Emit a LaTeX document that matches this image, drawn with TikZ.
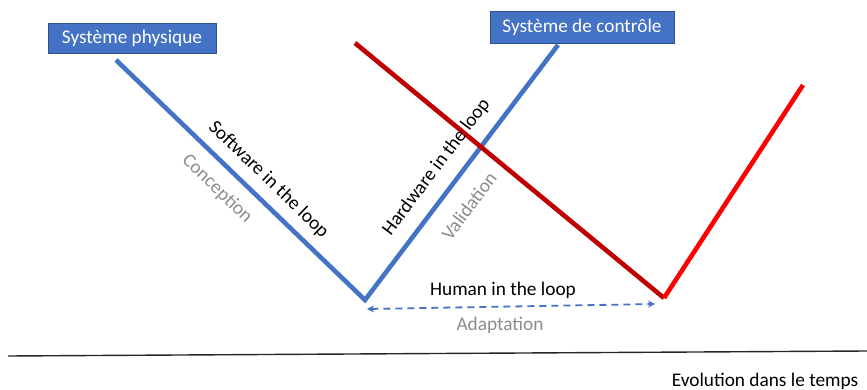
\documentclass[tikz,border=0pt]{standalone}
\usepackage{fontspec}
\setmainfont{Carlito}
\usetikzlibrary{arrows.meta}
\definecolor{bleuV}{HTML}{4472C4}
\definecolor{bordV}{HTML}{2F528F}
\definecolor{rougeF}{HTML}{C00000}
\definecolor{rougeV}{HTML}{FF0000}
\definecolor{grisT}{HTML}{8C8C8C}
\tikzset{
  boite/.style={draw=bordV,fill=bleuV,text=white,line width=0.8pt,inner sep=0pt,
    font=\fontsize{19.3}{23}\selectfont},
  trait/.style={line width=4.6pt,line cap=butt},
  txt/.style={font=\fontsize{19.3}{23}\selectfont,inner sep=0pt},
  gris/.style={txt,text=grisT}
}
\begin{document}
\begin{tikzpicture}[x=1pt,y=-1pt]
\useasboundingbox (0,0) rectangle (867,390);
% boites
\node[boite,minimum width=168pt,minimum height=30pt] (phys) at (132,38) {Système physique};
\node[boite,minimum width=184pt,minimum height=32pt] (ctrl) at (582,27) {Système de contrôle};
% cycle en V
\coordinate (A) at (116,60); \coordinate (B) at (365,300); \coordinate (C) at (558,45);
\draw[trait,bleuV,line join=miter] (A)--(B)--(C);
% deuxieme cycle
\coordinate (D) at (355,43); \coordinate (E) at (664,298); \coordinate (F) at (803,85);
\draw[trait,rougeF] (D)--(E);
\draw[trait,rougeV] (E)--(F);
% libelles
\node[txt,rotate=-44] (sil) at (268.5,179.5) {Software in the loop};
\node[gris,rotate=-44] (conc) at (217,189) {Conception};
\node[txt,rotate=53] (hil) at (436.5,167) {Hardware in the loop};
\node[gris,rotate=53] (valid) at (469,206) {Validation};
% adaptation
\coordinate (G) at (367,309); \coordinate (H) at (655,304);
\draw[bleuV,line width=1.8pt,dash pattern=on 7pt off 5pt,{Stealth[length=7pt,width=7pt]}-{Stealth[length=7pt,width=7pt]}] (G)--(H);
\node[txt] (hum) at (503,290) {Human in the loop};
\node[gris] (adap) at (500,325) {Adaptation};
% axe du temps
\coordinate (T0) at (8,356); \coordinate (T1) at (867,351);
\draw[line width=1.4pt,black!85] (T0)--(T1);
\node[txt] (evo) at (765,381) {Evolution dans le temps};
\end{tikzpicture}
\end{document}
